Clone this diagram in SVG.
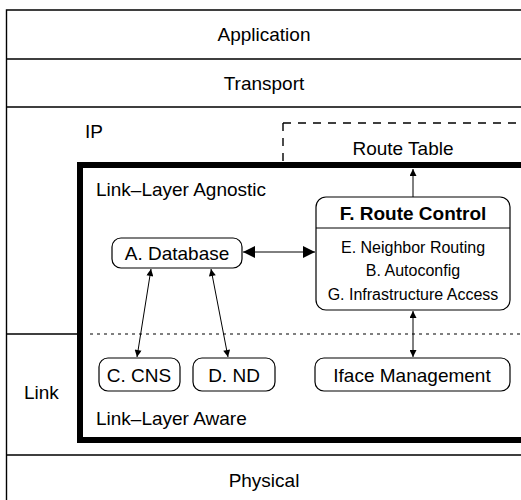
<svg xmlns="http://www.w3.org/2000/svg" width="521" height="500" viewBox="0 0 521 500">
<defs>
<style>
text{font-family:"Liberation Sans",Arial,sans-serif;font-size:19px;fill:#000}
.c{text-anchor:middle}
.s{font-size:16px}
.b{font-weight:bold}
.ln{stroke:#000;stroke-width:1.4;fill:none}
.box{fill:#fff;stroke:#000;stroke-width:1.2}
.con{stroke:#000;stroke-width:1;fill:none}
</style>
<marker id="ah" viewBox="0 0 10 10" refX="10" refY="5" markerWidth="11" markerHeight="7" markerUnits="userSpaceOnUse" orient="auto-start-reverse">
<path d="M0,0 L10,5 L0,10 Z" fill="#000"/>
</marker>
<marker id="ahb" viewBox="0 0 10 10" refX="10" refY="5" markerWidth="17" markerHeight="12" markerUnits="userSpaceOnUse" orient="auto-start-reverse">
<path d="M0,0 L10,5 L0,10 Z" fill="#000"/>
</marker>
</defs>
<rect width="521" height="500" fill="#fff"/>
<g id="layers">
<path class="ln" d="M6.5,500 V10 H521 M6.5,59 H521 M6.5,107 H521 M6.5,455 H521 M6.5,334 H80"/>
<text class="c" x="264" y="41">Application</text>
<text class="c" x="264" y="90">Transport</text>
<text x="85" y="138">IP</text>
<text x="24" y="399">Link</text>
<text class="c" x="264" y="487">Physical</text>
</g>
<g id="route-table">
<path d="M283,123 H521 M283,123 V162" stroke="#000" stroke-width="1.4" fill="none" stroke-dasharray="8,7"/>
<text class="c" x="403" y="155">Route Table</text>
</g>
<g id="link-layer">
<path d="M530,165 H80 V440 H530" stroke="#000" stroke-width="6" fill="none"/>
<path d="M90,334 H521" stroke="#000" stroke-width="1.2" stroke-dasharray="3,4"/>
<text x="96" y="196">Link–Layer Agnostic</text>
<text x="96" y="425">Link–Layer Aware</text>
</g>
<g id="connectors">
<line class="con" x1="413" y1="197" x2="413" y2="169" marker-end="url(#ah)"/>
<line class="con" x1="243" y1="252" x2="315" y2="252" stroke-width="1.8" marker-start="url(#ahb)" marker-end="url(#ahb)"/>
<line class="con" x1="151" y1="269" x2="137" y2="357" marker-start="url(#ah)" marker-end="url(#ah)"/>
<line class="con" x1="211" y1="269" x2="228" y2="357" marker-start="url(#ah)" marker-end="url(#ah)"/>
<line class="con" x1="413" y1="311" x2="413" y2="357" marker-start="url(#ah)" marker-end="url(#ah)"/>
</g>
<g id="route-control">
<rect class="box" x="316" y="197" width="194" height="113" rx="10"/>
<line class="con" x1="316" y1="228" x2="510" y2="228" stroke-width="1.2"/>
<text class="c b" x="413" y="220">F. Route Control</text>
<text class="c s" x="413" y="253">E. Neighbor Routing</text>
<text class="c s" x="413" y="276">B. Autoconfig</text>
<text class="c s" x="413" y="300">G. Infrastructure Access</text>
</g>
<g id="database">
<rect class="box" x="112" y="238" width="130" height="30" rx="9"/>
<text class="c" x="177" y="260">A. Database</text>
</g>
<g id="cns">
<rect class="box" x="99" y="358" width="81" height="33" rx="9"/>
<text class="c" x="139" y="382">C. CNS</text>
</g>
<g id="nd">
<rect class="box" x="193" y="358" width="82" height="33" rx="9"/>
<text class="c" x="234" y="382">D. ND</text>
</g>
<g id="iface">
<rect class="box" x="315" y="358" width="195" height="33" rx="9"/>
<text class="c" x="412" y="382">Iface Management</text>
</g>
</svg>
